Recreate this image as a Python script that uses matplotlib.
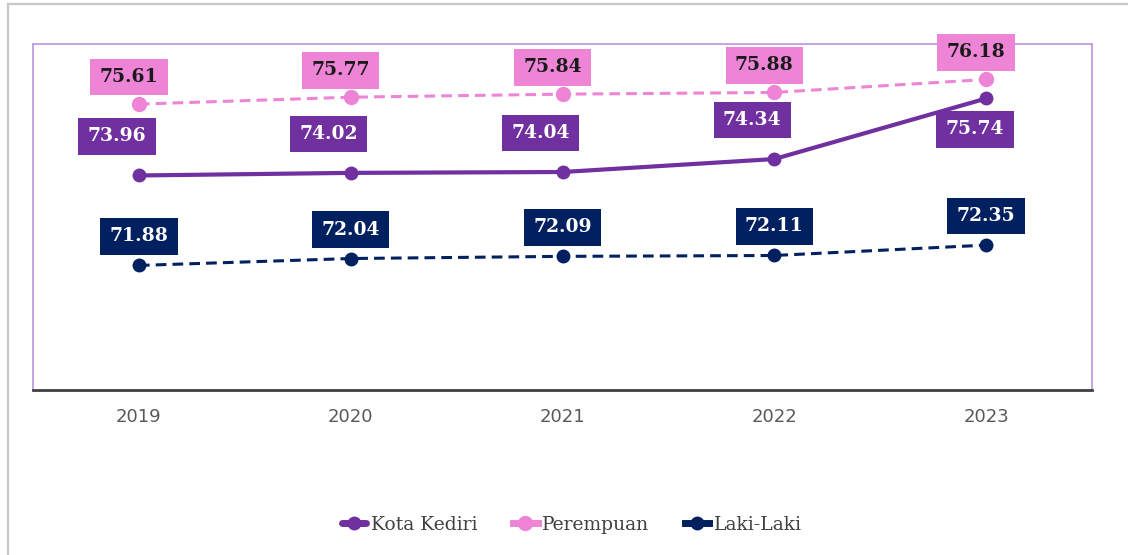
import matplotlib.pyplot as plt
from matplotlib.lines import Line2D

years = ["2019", "2020", "2021", "2022", "2023"]
kota_kediri = [73.96, 74.02, 74.04, 74.34, 75.74]
perempuan = [75.61, 75.77, 75.84, 75.88, 76.18]
laki_laki = [71.88, 72.04, 72.09, 72.11, 72.35]

PURPLE = "#7030a0"
PINK = "#ee84d6"
NAVY = "#012060"

fig = plt.figure(figsize=(11.28, 5.55), dpi=100)
ax = fig.add_axes([33 / 1128, 1 - 390 / 555, (1092 - 33) / 1128, (390 - 44) / 555])

x = list(range(len(years)))

ax.plot(x, kota_kediri, color=PURPLE, lw=3, marker="o", ms=9, label="Kota Kediri",
        solid_capstyle="round", zorder=3)
ax.plot(x, perempuan, color=PINK, lw=2.2, ls=(0, (3.5, 2)), marker="o", ms=10,
        label="Perempuan", zorder=3)
ax.plot(x, laki_laki, color=NAVY, lw=2.2, ls=(0, (3.5, 2)), marker="o", ms=9,
        label="Laki-Laki", zorder=3)


def label(xi, yi, dx, dy, face, fg):
    ax.annotate(f"{yi:.2f}", (xi, yi), xytext=(dx, dy), textcoords="offset pixels",
                ha="center", va="center", fontsize=13.5, fontweight="bold",
                family="DejaVu Serif", color=fg, zorder=4,
                bbox=dict(boxstyle="square,pad=0.5", fc=face, ec="none"))


for i, v in enumerate(perempuan):
    label(i, v, -10, 27, PINK, "#1a1a1a")
for i, v in enumerate(kota_kediri):
    if i == len(kota_kediri) - 1:
        label(i, v, -11, -31, PURPLE, "white")
    else:
        label(i, v, -22, 39, PURPLE, "white")
for i, v in enumerate(laki_laki):
    label(i, v, 0, 29, NAVY, "white")

ax.set_xlim(-0.5, len(years) - 0.5)
ax.set_ylim(69, 77)
ax.set_xticks(x)
ax.set_xticklabels(years, fontsize=13, color="#595959", family="DejaVu Sans")
ax.tick_params(axis="x", length=0, pad=13)
ax.set_yticks([])

for side in ("left", "top", "right"):
    ax.spines[side].set_color("#b995e0")
    ax.spines[side].set_linewidth(1.2)
ax.spines["bottom"].set_color("#404040")
ax.spines["bottom"].set_linewidth(2)

leg = fig.legend(loc="center", bbox_to_anchor=(572 / 1128, 1 - 525 / 555), ncol=3,
                 frameon=False, handlelength=1.3, handletextpad=0.25, columnspacing=1.9,
                 prop={"family": "DejaVu Serif", "size": 13.5})
for h in leg.legend_handles:
    h.set_linestyle("-")
    h.set_linewidth(5)
for t in leg.get_texts():
    t.set_color("#404040")

# thin gray frame at top and left of the canvas
fig.add_artist(Line2D([8 / 1128, 1], [1 - 4 / 555, 1 - 4 / 555], color="#c8c8c8", lw=1.6,
                      transform=fig.transFigure))
fig.add_artist(Line2D([8 / 1128, 8 / 1128], [0, 1 - 4 / 555], color="#c8c8c8", lw=1.6,
                      transform=fig.transFigure))

fig.savefig("out.png", dpi=100, facecolor="white")
